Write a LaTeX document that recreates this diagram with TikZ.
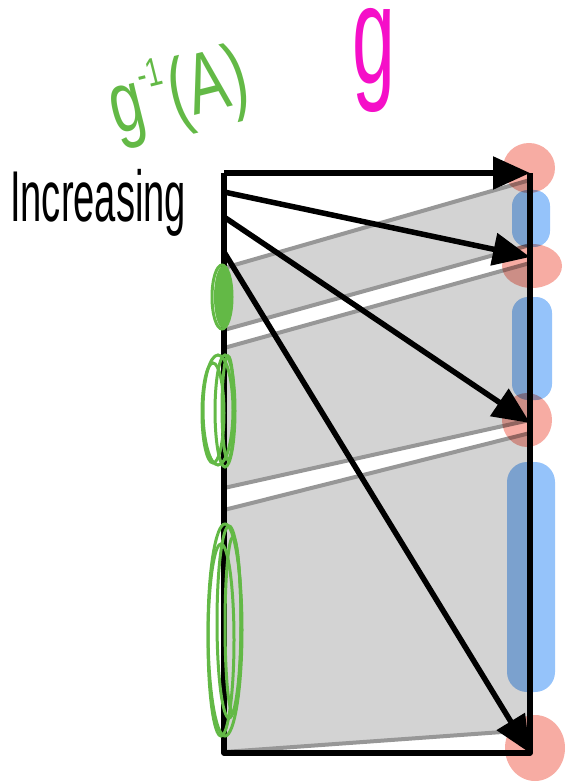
\documentclass[tikz,border=0pt]{standalone}
\usepackage{fontspec}
\setmainfont{Liberation Sans}
\usetikzlibrary{arrows.meta}
\definecolor{bandfill}{HTML}{D3D3D3}
\definecolor{bandedge}{HTML}{979797}
\definecolor{blobred}{HTML}{F7ACA3}
\definecolor{blobblue}{HTML}{95C3FA}
\definecolor{scribble}{HTML}{63B946}
\definecolor{magentag}{HTML}{F50FC8}
\tikzset{
  band/.style={fill=bandfill},
  bandline/.style={draw=bandedge, line width=4pt},
  blk/.style={draw=black, line width=5.5pt, line join=round},
  arr/.style={draw=black, line width=5.5pt, -{Triangle[length=37pt,width=32pt]}},
  scrib/.style={draw=scribble, line width=3pt},
  redblob/.style={fill=blobred},
  blueblob/.style={fill=blobblue, rounded corners=16pt},
}
\begin{document}
\begin{tikzpicture}[x=1pt,y=-1pt]
\useasboundingbox (0,0) rectangle (565,783);

% corners and arrow ends
\coordinate (TL) at (224,173);
\coordinate (TR) at (530,173);
\coordinate (BL) at (224,753);
\coordinate (BR) at (530,753);
\coordinate (S2) at (224,192);
\coordinate (S3) at (224,217);
\coordinate (S4) at (224,252);
\coordinate (E2) at (530,257);
\coordinate (E3) at (530,423);

% band corner coordinates
\coordinate (a1) at (224,268); \coordinate (b1) at (530,180);
\coordinate (a2) at (224,330); \coordinate (b2) at (530,245);
\coordinate (a3) at (224,348); \coordinate (b3) at (530,263);
\coordinate (a4) at (224,488); \coordinate (b4) at (530,420);
\coordinate (a5) at (224,510); \coordinate (b5) at (530,433);
\coordinate (a6) at (224,752); \coordinate (b6) at (530,730);

% grey bands
\path[band] (a1) -- (b1) -- (b2) -- (a2) -- cycle;
\path[band] (a3) -- (b3) -- (b4) -- (a4) -- cycle;
\path[band] (a5) -- (b5) -- (b6) -- (a6) -- cycle;
\path[bandline] (a1) -- (b1);
\path[bandline] (a2) -- (b2);
\path[bandline] (a3) -- (b3);
\path[bandline] (a4) -- (b4);
\path[bandline] (a5) -- (b5);
\path[bandline] (a6) -- (b6);

% frame and arrows
\path[blk] (TL) -- (BL) -- (BR) -- (TR);
\path[arr] (TL) -- (TR);
\path[arr] (S2) -- (E2);
\path[arr] (S3) -- (E3);
\path[arr] (S4) -- (BR);

% green scribbles on the left edge
\fill[scribble] (223,297) ellipse [x radius=9, y radius=31];
\draw[scrib] (222,297) ellipse [x radius=10, y radius=32];
\draw[scrib] (218,410) ellipse [x radius=15, y radius=55];
\draw[scrib] (225,411) ellipse [x radius=10, y radius=56];
\draw[scrib] (213,413) ellipse [x radius=11, y radius=50];
\draw[scrib] (228,408) ellipse [x radius=6, y radius=52];
\draw[scrib] (225,630) ellipse [x radius=17, y radius=106];
\draw[scrib] (229,622) ellipse [x radius=12, y radius=96];
\draw[scrib] (221,640) ellipse [x radius=13, y radius=96];
\draw[scrib] (233,625) ellipse [x radius=8, y radius=88];

% coloured blobs on the right edge
\begin{scope}[blend mode=multiply]
\path[blueblob] (512,190) rectangle (550,247);
\path[blueblob] (512,297) rectangle (552,400);
\path[blueblob, rounded corners=20pt] (507,462) rectangle (555,692);
\path[redblob] (529,168) ellipse [x radius=26, y radius=25];
\path[redblob] (532,266) ellipse [x radius=30, y radius=22];
\path[redblob] (527,420) ellipse [x radius=25, y radius=27];
\path[redblob] (535,748) ellipse [x radius=30, y radius=33];
\end{scope}

% labels
\node[anchor=base west, inner sep=0pt, xscale=0.53,
      font=\fontsize{72}{72}\selectfont] (inc) at (10,222) {Increasing};
\node[anchor=base west, inner sep=0pt, rotate=14, xscale=0.7, text=scribble,
      font=\fontsize{86}{86}\selectfont] (pre) at (116,135)
      {g\kern2pt\raisebox{38pt}{\fontsize{40}{40}\selectfont -1}\kern2pt(A)};
\node[anchor=base west, inner sep=0pt, xscale=0.55, text=magentag,
      font=\fontsize{140}{140}\selectfont] (gmap) at (352,84) {\smash{g}};
\end{tikzpicture}
\end{document}
